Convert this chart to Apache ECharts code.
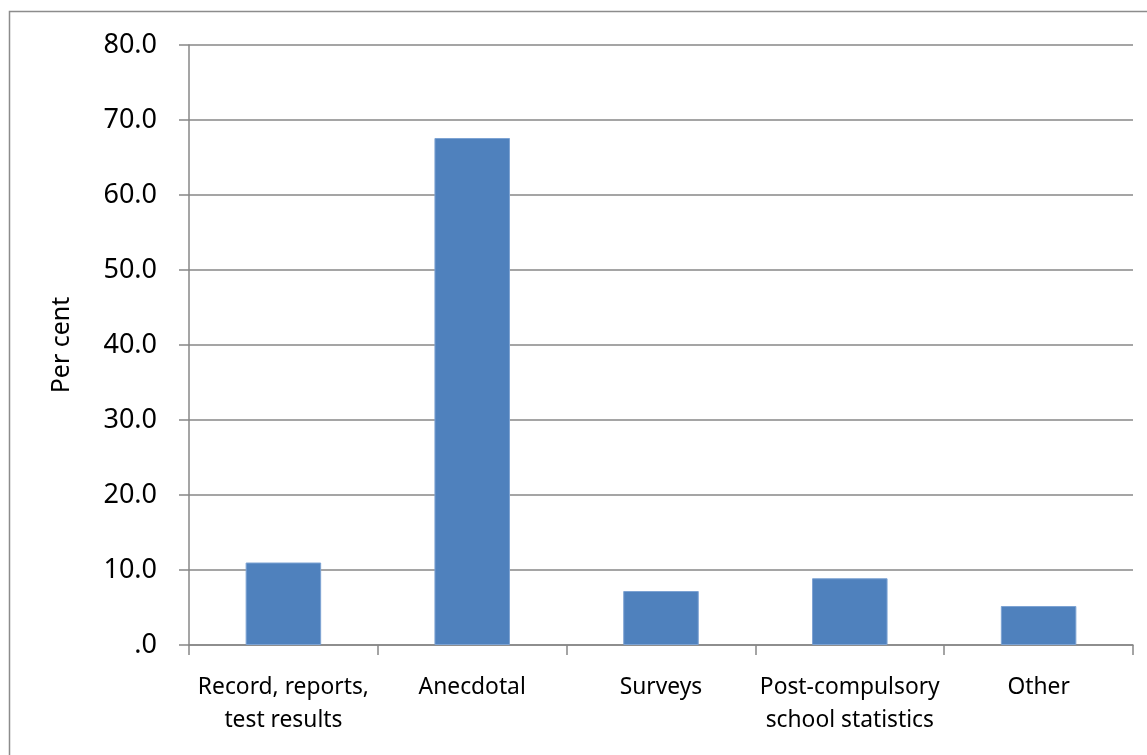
<!DOCTYPE html>
<html>
<head>
<meta charset="utf-8">
<script src="https://cdn.jsdelivr.net/npm/echarts@6/dist/echarts.min.js"></script>
<style>
  html, body { margin: 0; padding: 0; background: #fff; }
  #chart { width: 1147px; height: 755px; }
</style>
</head>
<body>
<div id="chart"></div>
<script>
// Sources of evidence reported, per cent of respondents
const categories = ['Record, reports,\ntest results', 'Anecdotal', 'Surveys', 'Post-compulsory\nschool statistics', 'Other'];
const values = [11.0, 67.6, 7.2, 8.9, 5.2];
const yTicks = { min: 0, max: 80, interval: 10 };

const FONT = 'Noto Sans';
const chart = echarts.init(document.getElementById('chart'), null, { renderer: 'canvas' });

chart.setOption({
  animation: false,
  backgroundColor: '#fff',
  textStyle: { fontFamily: FONT },
  graphic: [{
    type: 'rect',
    shape: { x: 9.5, y: 11.5, width: 1200, height: 800 },
    style: { fill: 'none', stroke: '#8c8c8c', lineWidth: 1.5 },
    silent: true
  }],
  grid: { left: 189, right: 14, top: 45, bottom: 110 },
  xAxis: {
    type: 'category',
    data: categories,
    axisLine: { lineStyle: { color: '#878787', width: 1.5 } },
    axisTick: { show: true, alignWithLabel: false, length: 10, lineStyle: { color: '#878787', width: 1.5 } },
    axisLabel: { color: '#000', fontFamily: FONT, fontSize: 22.8, lineHeight: 33, margin: 26, interval: 0 }
  },
  yAxis: {
    type: 'value',
    min: yTicks.min, max: yTicks.max, interval: yTicks.interval,
    name: 'Per cent',
    nameLocation: 'middle',
    nameGap: 115,
    nameRotate: 90,
    nameTextStyle: { color: '#000', fontFamily: FONT, fontSize: 25 },
    axisLine: { show: true, lineStyle: { color: '#878787', width: 1.5 } },
    axisTick: { show: true, length: 10, lineStyle: { color: '#878787', width: 1.5 } },
    splitLine: { lineStyle: { color: '#878787', width: 1.5 } },
    axisLabel: {
      color: '#000', fontFamily: FONT, fontSize: 27, margin: 32,
      formatter: v => v === 0 ? '.0' : v.toFixed(1)
    }
  },
  series: [{
    type: 'bar',
    data: values,
    barWidth: '40%',
    itemStyle: { color: '#4F81BD', borderColor: '#7da3d3', borderWidth: 1 }
  }]
});
</script>
</body>
</html>
